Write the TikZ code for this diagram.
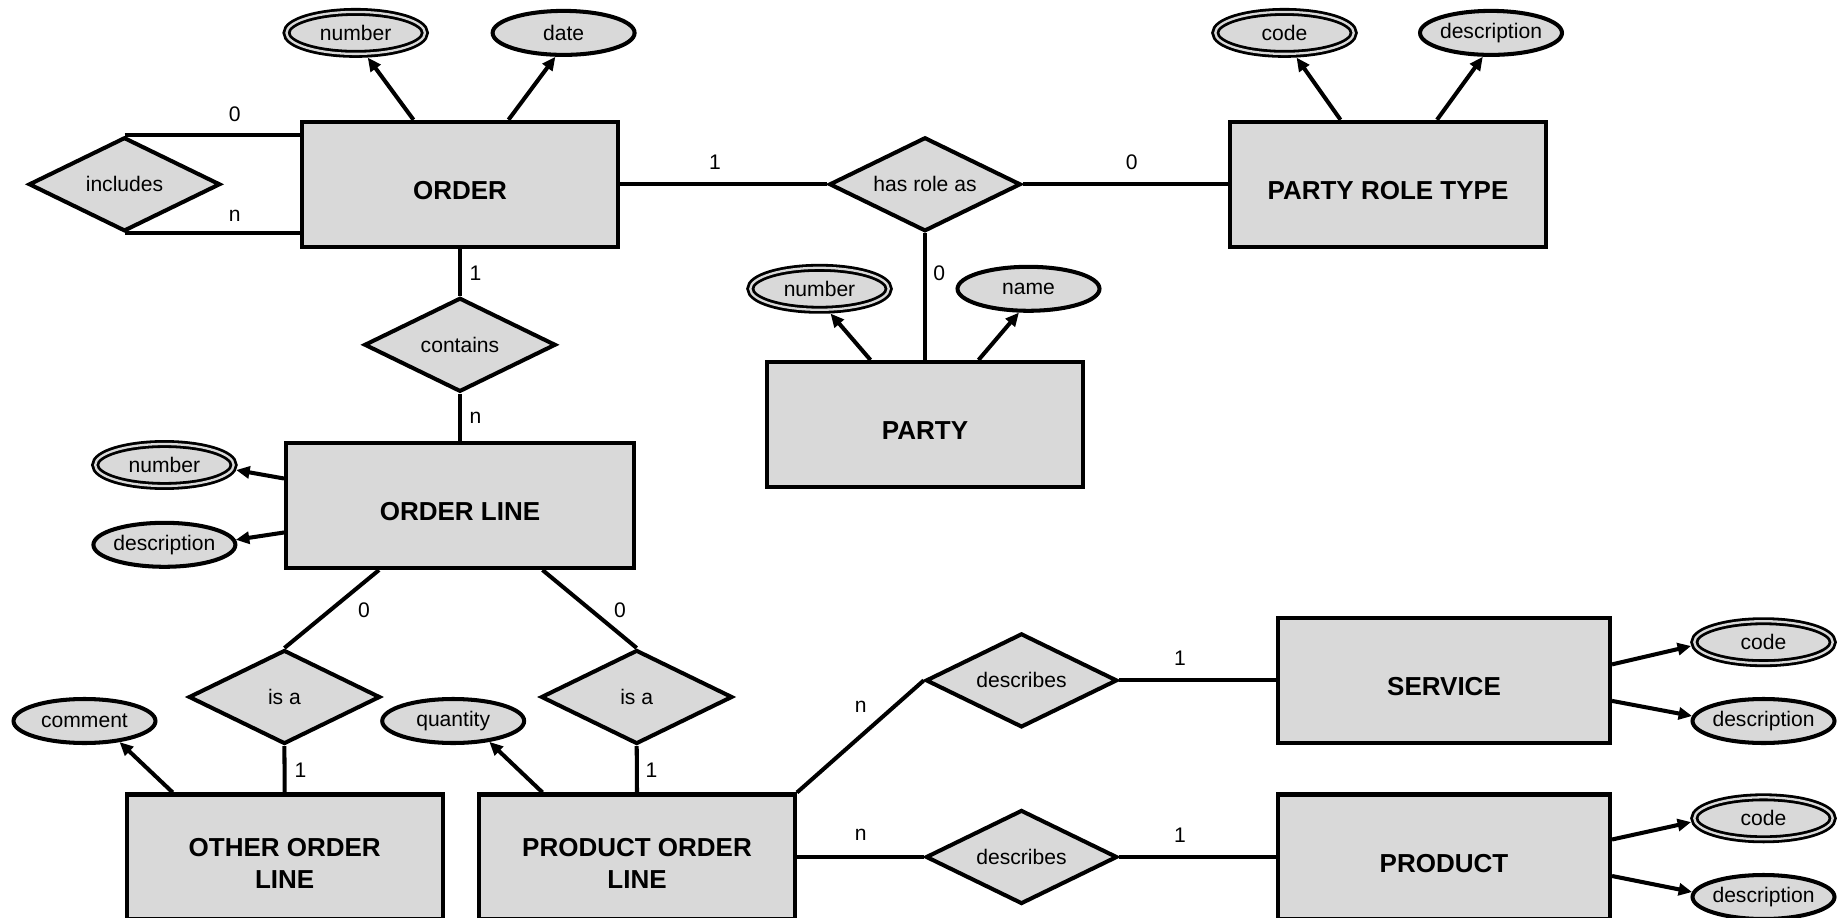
\documentclass[tikz,border=0pt]{standalone}
\usepackage{fontspec}
\setmainfont{Liberation Sans}
\usetikzlibrary{arrows.meta}
\usetikzlibrary{shapes.geometric}
\definecolor{ergray}{RGB}{217,217,217}

\begin{document}
\begin{tikzpicture}[x=0.02cm, y=-0.02cm,
    ent/.style = {draw, fill=ergray, line width=2.3pt, minimum width=6.32cm, minimum height=2.5cm},
    ename/.style = {font=\fontsize{14.8}{17.8}\selectfont\bfseries, align=center, yshift=-0.13cm},
    rel/.style = {draw, diamond, aspect=2, fill=ergray, line width=2.3pt, inner sep=0pt, minimum width=3.83cm, minimum height=1.88cm, font=\fontsize{12}{14}\selectfont},
    att/.style = {draw, ellipse, fill=ergray, line width=2.3pt, inner xsep=-2pt, inner ysep=0pt, minimum width=2.84cm, minimum height=0.88cm, font=\fontsize{12}{14}\selectfont},
    key/.style = {att, line width=1.6pt, double=ergray, double distance=1.3pt, minimum width=2.77cm, minimum height=0.84cm, outer sep=2.3pt},
    card/.style = {font=\fontsize{12}{14}\selectfont},
    attr/.style = {-{Triangle[length=0.27cm, width=0.24cm]}, line width=2.3pt}]
    \useasboundingbox (0,0) rectangle (1841,918);
    % entities
    \node[ent, label={[ename]center:ORDER}] (order) at (460,184.3) {};
    \node[ent, minimum width=6.96cm, label={[ename]center:ORDER LINE}] (ol) at (460,505.5) {};
    \node[ent, label={[ename]center:PARTY ROLE TYPE}] (prt) at (1388,184.3) {};
    \node[ent, label={[ename]center:PARTY}] (party) at (925,424.5) {};
    \node[ent, label={[ename]center:OTHER ORDER\\LINE}] (ool) at (284.7,857) {};
    \node[ent, label={[ename]center:PRODUCT ORDER\\LINE}] (pol) at (637,857) {};
    \node[ent, minimum width=6.64cm, label={[ename]center:SERVICE}] (serv) at (1444,680.4) {};
    \node[ent, minimum width=6.64cm, label={[ename]center:PRODUCT}] (prod) at (1444,857) {};
    % relationships
    \node[rel] (inc) at (124.5,184.3) {includes};
    \node[rel] (role) at (925,184.3) {has role as};
    \node[rel] (cont) at (460,344.8) {contains};
    \node[rel] (isa1) at (284.4,697) {is a};
    \node[rel] (isa2) at (636.7,697) {is a};
    \node[rel] (desc1) at (1021.5,680.4) {describes};
    \node[rel] (desc2) at (1021.5,857) {describes};
    % attributes
    \node[key] (onum) at (355.7,32.9) {number};
    \node[att] (odate) at (563.6,32.9) {date};
    \node[key] (pcode) at (1284.5,32.9) {code};
    \node[att] (pdesc) at (1491,32.9) {description};
    \node[key] (pnum) at (819.5,288.8) {number};
    \node[att] (pname) at (1028.5,288.8) {name};
    \node[key] (lnum) at (164.4,465) {number};
    \node[att] (ldesc) at (164.4,544.8) {description};
    \node[att] (comm) at (84.5,721) {comment};
    \node[att] (qty) at (453.2,721) {quantity};
    \node[key] (scode) at (1763.5,642.2) {code};
    \node[att] (sdesc) at (1763.5,721) {description};
    \node[key] (rcode) at (1763.5,818.3) {code};
    \node[att] (rdesc) at (1763.5,897) {description};
    % cardinalities
    \node[card] (c1) at (234.8,113.9) {0};
    \node[card] (c2) at (234.8,216) {n};
    \node[card] (c3) at (715,162) {1};
    \node[card] (c4) at (1131.8,162) {0};
    \node[card] (c5) at (939.3,273.6) {0};
    \node[card] (c6) at (475.5,273.6) {1};
    \node[card] (c7) at (475.5,418) {n};
    \node[card] (c8) at (364,610.5) {0};
    \node[card] (c9) at (620,610.5) {0};
    \node[card] (c10) at (300.6,770) {1};
    \node[card] (c11) at (651.6,770) {1};
    \node[card] (c12) at (860.6,706.8) {n};
    \node[card] (c13) at (1180,658.7) {1};
    \node[card] (c14) at (860.6,834.8) {n};
    \node[card] (c15) at (1180,834.8) {1};
    % relationship lines
    \draw[line width=2.3pt] (inc.north) -- (inc.north -| order.west);
    \draw[line width=2.3pt] (inc.south) -- (inc.south -| order.west);
    \draw[line width=2.3pt] (order.east) -- (role.west);
    \draw[line width=2.3pt] (role.east) -- (prt.west);
    \draw[line width=2.3pt] (role.south) -- (party.north);
    \draw[line width=2.3pt] (order.south) -- (cont.north);
    \draw[line width=2.3pt] (cont.south) -- (ol.north);
    \draw[line width=2.3pt] ([xshift=-1.62cm]ol.south) -- (isa1.north);
    \draw[line width=2.3pt] ([xshift=1.65cm]ol.south) -- (isa2.north);
    \draw[line width=2.3pt] (isa1.south) -- (ool.north);
    \draw[line width=2.3pt] (isa2.south) -- (pol.north);
    \draw[line width=2.3pt] (pol.north east) -- (desc1.west);
    \draw[line width=2.3pt] (pol.east) -- (desc2.west);
    \draw[line width=2.3pt] (desc1.east) -- (serv.west);
    \draw[line width=2.3pt] (desc2.east) -- (prod.west);
    % attribute arrows
    \draw[attr] ([xshift=-0.93cm]order.north) -- (onum.-64);
    \draw[attr] ([xshift=0.97cm]order.north) -- (odate.-109);
    \draw[attr] ([xshift=-0.95cm]prt.north) -- (pcode.-64);
    \draw[attr] ([xshift=0.98cm]prt.north) -- (pdesc.-109);
    \draw[attr] ([xshift=-1.09cm]party.north) -- (pnum.-66);
    \draw[attr] ([xshift=1.07cm]party.north) -- (pname.-112);
    \draw[attr] ([yshift=0.54cm]ol.west) -- (lnum.-4);
    \draw[attr] ([yshift=-0.54cm]ol.west) -- (ldesc.4);
    \draw[attr] ([xshift=-2.24cm]ool.north) -- (comm.-31);
    \draw[attr] ([xshift=-1.89cm]pol.north) -- (qty.-30);
    \draw[attr] ([yshift=0.32cm]serv.east) -- (scode.183);
    \draw[attr] ([yshift=-0.41cm]serv.east) -- (sdesc.176);
    \draw[attr] ([yshift=0.35cm]prod.east) -- (rcode.183);
    \draw[attr] ([yshift=-0.38cm]prod.east) -- (rdesc.176);
\end{tikzpicture}
\end{document}
